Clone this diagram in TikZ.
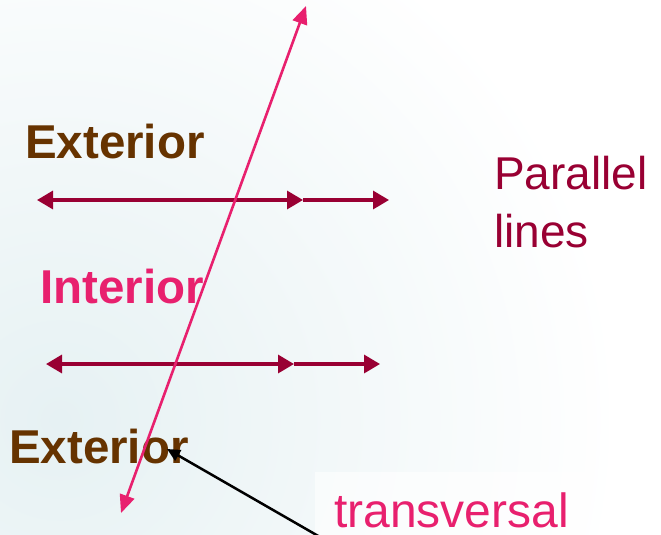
\documentclass[tikz,border=0pt]{standalone}
\usepackage{fontspec}
\setmainfont{Liberation Sans}
\usetikzlibrary{arrows.meta}
\definecolor{brownlbl}{HTML}{663300}
\definecolor{pinklbl}{RGB}{232,32,110}
\definecolor{crimson}{HTML}{990033}
\definecolor{haze}{HTML}{E6F1F3}
\begin{document}
\begin{tikzpicture}[x=1pt,y=-1pt,
  lbl/.style={inner sep=0pt,anchor=base west},
  boldlbl/.style={lbl,font=\fontsize{47.5}{50}\selectfont\bfseries},
  plainlbl/.style={lbl,font=\fontsize{46}{50}\selectfont},
  parline/.style={crimson,line width=3.4pt},
  ptip/.tip={Triangle[length=16pt,width=18pt]},
  ttip/.tip={Triangle[length=18pt,width=15pt]},
  translinestyle/.style={pinklbl,line width=2.6pt,ttip-ttip},
  pointer/.style={black,line width=2.5pt,-{Triangle[length=13pt,width=12pt]}}]
  % page and soft radial haze
  \useasboundingbox (0,0) rectangle (661,535);
  \fill[white] (0,0) rectangle (661,535);
  \begin{scope}
    \clip (0,0) rectangle (661,535);
    \shade[inner color=haze,outer color=white] (60,420) circle (560);
    \fill[white,opacity=0.6] (315,472) rectangle (600,535);
  \end{scope}

  % parallel lines, each with an arrow partway along
  \coordinate (aL) at (37,200);
  \coordinate (aM) at (303,200);
  \coordinate (aR) at (389,200);
  \coordinate (bL) at (46,364);
  \coordinate (bM) at (294,364);
  \coordinate (bR) at (380,364);
  \draw[parline,ptip-ptip] (aL) -- (aM);
  \draw[parline,-ptip] (aM) -- (aR);
  \draw[parline,ptip-ptip] (bL) -- (bM);
  \draw[parline,-ptip] (bM) -- (bR);

  % region labels
  \node[boldlbl,text=brownlbl] (ext1) at (25,158) {Exterior};
  \node[boldlbl,text=pinklbl] (int) at (40,303) {Interior};
  \node[boldlbl,text=brownlbl] (ext2) at (9,463) {Exterior};

  % transversal
  \coordinate (tTop) at (306,6);
  \coordinate (tBot) at (121,513);
  \draw[translinestyle] (tBot) -- (tTop);

  % side labels
  \node[plainlbl,text=crimson] (par) at (494,189) {Parallel};
  \node[plainlbl,text=crimson] (lines) at (494,247) {lines};
  \node[plainlbl,font=\fontsize{48}{50}\selectfont,text=pinklbl] (trans) at (334,527) {transversal};

  % pointer to the transversal
  \coordinate (ptail) at (320,537);
  \coordinate (phead) at (167,449);
  \draw[pointer] (ptail) -- (phead);
\end{tikzpicture}
\end{document}
